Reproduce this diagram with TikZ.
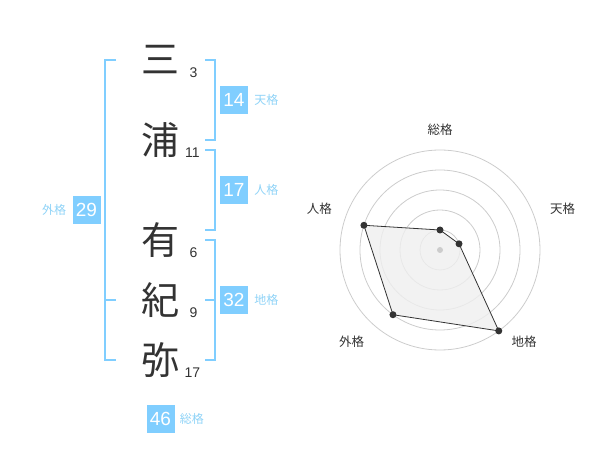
\documentclass[tikz,border=0pt]{standalone}
\usepackage{fontspec}
\setmainfont{Liberation Sans}
\newfontfamily\jpfont{Noto Sans CJK JP}
\usetikzlibrary{positioning}
\definecolor{kakublue}{HTML}{80CEFF}
\definecolor{labelblue}{HTML}{8FD3F7}
\definecolor{inkgray}{HTML}{333333}
\definecolor{ringgray}{HTML}{CCCCCC}
\definecolor{areagray}{HTML}{EFEFEF}
\tikzset{
    kanji/.style={font=\jpfont\fontsize{38}{38}\selectfont, text=inkgray, inner sep=0pt},
    strokes/.style={font=\fontsize{14}{14}\selectfont, text=inkgray, inner sep=0pt},
    scorebox/.style={fill=kakublue, text=white, minimum width=28pt, minimum height=28pt,
        inner sep=0pt, font=\fontsize{19}{19}\selectfont},
    kakulabel/.style={font=\jpfont\fontsize{12}{12}\selectfont, text=labelblue, inner sep=0pt},
    bracket/.style={draw=kakublue, line width=2pt},
    ring/.style={draw=ringgray, line width=0.8pt},
    axislabel/.style={font=\jpfont\fontsize{12.5}{12.5}\selectfont, text=inkgray, inner sep=0pt},
    dot/.style={circle, fill=inkgray, inner sep=0pt, minimum size=7pt}
}
\begin{document}
\begin{tikzpicture}[x=1pt,y=-1pt]
                \useasboundingbox (0,0) rectangle (600,470);

                \node[kanji] (mi)  at (160,60)  {三};
                \node[kanji] (ura) at (160,140) {浦};
                \node[kanji] (yu)  at (160,240) {有};
                \node[kanji] (ki)  at (160,300) {紀};
                \node[kanji] (ya)  at (160,360) {弥};

                \node[strokes] (nmi)  at (193.5,72.5)  {3};
                \node[strokes] (nura) at (192.3,152.5) {11};
                \node[strokes] (nyu)  at (193.5,252.5) {6};
                \node[strokes] (nki)  at (193.5,312.5) {9};
                \node[strokes] (nya)  at (192.3,372.5) {17};

                \draw[bracket] (116,60) -- (105,60) -- (105,360) -- (116,360);
                \draw[bracket] (105,300) -- (116,300);
                \draw[bracket] (205,60) -- (215,60) -- (215,140) -- (205,140);
                \draw[bracket] (205,150) -- (215,150) -- (215,230) -- (205,230);
                \draw[bracket] (205,240) -- (215,240) -- (215,360) -- (205,360);
                \draw[bracket] (215,300) -- (205,300);

                \node[scorebox] (ten) at (234,100)   {14};
                \node[scorebox] (jin) at (234,190)   {17};
                \node[scorebox] (chi) at (234,300)   {32};
                \node[scorebox] (gai) at (86.5,210)  {29};
                \node[scorebox] (sou) at (160.5,419) {46};

                \node[kakulabel, right=6pt of ten] (lten) {天格};
                \node[kakulabel, right=6pt of jin] (ljin) {人格};
                \node[kakulabel, right=6pt of chi] (lchi) {地格};
                \node[kakulabel, left=6pt of gai]  (lgai) {外格};
                \node[kakulabel, right=5pt of sou] (lsou) {総格};

                \begin{scope}[shift={(440,250)}, y=1pt]
                    \foreach \r in {20,40,60,80,100}
                        \draw[ring] (0,0) circle[radius=\r];
                    \coordinate (psou) at (90:20);
                    \coordinate (pten) at (18:20);
                    \coordinate (pchi) at (-54:100);
                    \coordinate (pgai) at (-126:80);
                    \coordinate (pjin) at (162:80);
                    \filldraw[fill=areagray, fill opacity=0.8, draw=inkgray, line width=0.8pt]
                        (psou) -- (pten) -- (pchi) -- (pgai) -- (pjin) -- cycle;
                    \node[circle, fill=ringgray, inner sep=0pt, minimum size=6pt] (hub) at (0,0) {};
                    \foreach \p in {psou,pten,pchi,pgai,pjin}
                        \node[dot] (d\p) at (\p) {};
                    \node[axislabel] (asou) at (0,120)        {総格};
                    \node[axislabel] (aten) at (122.7,41.3)   {天格};
                    \node[axislabel] (achi) at (84,-91.7)     {地格};
                    \node[axislabel] (agai) at (-88.3,-91.7)  {外格};
                    \node[axislabel] (ajin) at (-120.7,41.3)  {人格};
                \end{scope}
\end{tikzpicture}
\end{document}
